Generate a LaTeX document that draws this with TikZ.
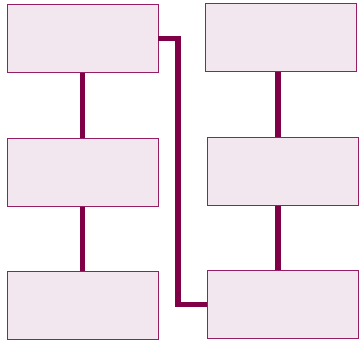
\documentclass[tikz,border=0pt]{standalone}
\usepackage{xcolor}
\usepackage{tikz}
\definecolor{darkplum}{RGB}{128,0,72}
\definecolor{plumedge}{RGB}{150,30,100}
\definecolor{lightplum}{RGB}{243,231,239}
\usetikzlibrary{positioning,calc}
\tikzset{
    box/.style={rectangle, draw=plumedge, fill=lightplum, line width=0.8pt, minimum width=4.53cm, minimum height=2.04cm, inner sep=0pt},
    link/.style={line width=4.3pt, color=darkplum},
}

\begin{document}
\begin{tikzpicture}[x=0.03cm, y=-0.03cm, node distance=1.94cm]
    \useasboundingbox (0,0) rectangle (359,352);

    % Left column
    \node[box] (stepa) at (82.5,38.5) {};
    \node[box, below=of stepa] (stepb) {};
    \node[box, below=of stepb] (stepc) {};

    % Right column
    \node[box] (stepd) at (280.5,37.5) {};
    \node[box, below=of stepd, xshift=0.06cm] (stepe) {};
    \node[box, below=of stepe] (stepf) {};

    % Rails
    \coordinate (railr) at (278,0);
    \coordinate (bend) at (178,0);

    % Links
    \draw[link] (stepa) -- (stepb);
    \draw[link] (stepb) -- (stepc);
    \draw[link] (stepd.south -| railr) -- (stepe.north -| railr);
    \draw[link] (stepe.south -| railr) -- (stepf.north -| railr);
    \draw[link] (stepa.east) -| (bend |- stepf.west) -- (stepf.west);
\end{tikzpicture}
\end{document}
